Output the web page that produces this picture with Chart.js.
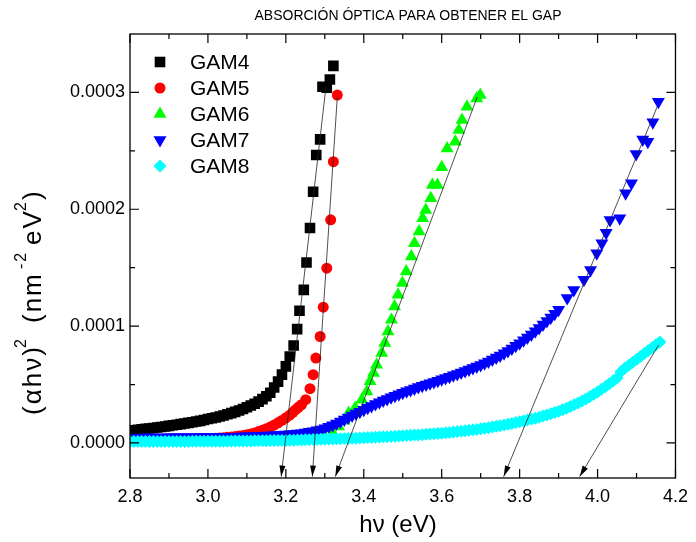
<!DOCTYPE html>
<html>
<head>
<meta charset="utf-8">
<script src="https://cdn.jsdelivr.net/npm/chart.js@4.4.1/dist/chart.umd.min.js"></script>
<style>
  body { margin: 0; background: #fff; }
  #wrap { width: 696px; height: 542px; position: relative; }
</style>
</head>
<body>
<div id="wrap"><canvas id="gapChart"></canvas></div>
<script>
// === data (y in units of 1e-4 nm^-2 eV^2) ===
const gam4X = [2.80,2.81,2.82,2.83,2.84,2.85,2.86,2.87,2.88,2.89,2.90,2.91,2.92,2.93,2.94,2.95,2.96,2.97,2.98,2.99,
  3.00,3.01,3.02,3.03,3.04,3.05,3.06,3.07,3.08,3.09,3.10,3.11,3.12,3.13,3.14,3.15,3.16,3.17,3.18,3.19,3.20,3.21,
  3.220,3.229,3.235,3.246,3.253,3.262,3.270,3.278,3.288,3.294,3.305,3.313,3.322];
const gam4Y = [.105,.108,.112,.116,.120,.124,.128,.132,.137,.141,.146,.151,.156,.161,.166,.172,.177,.183,.189,.197,
  .205,.211,.218,.226,.235,.245,.255,.266,.278,.291,.305,.320,.336,.354,.375,.400,.430,.475,.525,.585,.655,.740,
  .834,.974,1.131,1.310,1.544,1.840,2.150,2.464,2.598,3.048,3.040,3.111,3.227];

const gam5X = [2.80,2.81,2.82,2.83,2.84,2.85,2.86,2.87,2.88,2.89,2.90,2.91,2.92,2.93,2.94,2.95,2.96,2.97,2.98,2.99,
  3.00,3.01,3.02,3.03,3.04,3.05,3.06,3.07,3.08,3.09,3.10,3.11,3.12,3.13,3.14,3.15,3.16,3.17,3.18,3.19,3.20,3.21,
  3.218,3.225,3.232,3.240,3.251,3.262,3.270,3.277,3.288,3.296,3.305,3.315,3.322,3.332];
const gam5Y = [.025,.025,.026,.026,.026,.027,.027,.027,.028,.028,.029,.029,.030,.030,.031,.032,.032,.033,.034,.035,
  .036,.038,.040,.042,.045,.048,.051,.055,.059,.064,.070,.077,.086,.097,.109,.122,.136,.153,.172,.193,.215,.238,
  .262,.285,.305,.327,.370,.464,.584,.726,.911,1.162,1.496,1.910,2.407,2.977];

const gam6X = [2.80,2.84,2.88,2.92,2.96,3.00,3.04,3.08,3.12,3.16,3.20,3.24,3.28,3.30,3.32,3.335,3.35,3.361,3.378,3.395,
  3.408,3.416,3.425,3.433,3.446,3.454,3.462,3.471,3.479,3.488,3.499,3.509,3.522,3.530,3.542,3.551,3.559,3.572,3.576,
  3.589,3.600,3.614,3.635,3.644,3.652,3.665,3.690,3.699];
const gam6Y = [.010,.010,.011,.011,.012,.012,.013,.014,.015,.016,.018,.022,.030,.045,.090,.140,.190,.256,.299,.370,
  .441,.527,.598,.669,.769,.855,.954,1.054,1.168,1.268,1.368,1.467,1.595,1.709,1.809,1.923,1.994,2.094,2.208,
  2.208,2.359,2.521,2.578,2.678,2.763,2.877,2.948,2.977];

const gam7X = [2.80,2.81,2.82,2.83,2.84,2.85,2.86,2.87,2.88,2.89,2.90,2.91,2.92,2.93,2.94,2.95,2.96,2.97,2.98,2.99,
  3.00,3.01,3.02,3.03,3.04,3.05,3.06,3.07,3.08,3.09,3.10,3.11,3.12,3.13,3.14,3.15,3.16,3.17,3.18,3.19,
  3.20,3.21,3.22,3.23,3.24,3.25,3.26,3.27,3.28,3.29,3.30,3.31,3.32,3.33,3.34,3.35,3.36,3.37,3.38,3.39,
  3.40,3.41,3.42,3.43,3.44,3.45,3.46,3.47,3.48,3.49,3.50,3.51,3.52,3.53,3.54,3.55,3.56,3.57,3.58,3.59,
  3.60,3.61,3.62,3.63,3.64,3.65,3.66,3.67,3.68,3.69,3.70,3.71,3.72,3.73,3.74,3.75,3.76,3.77,3.78,3.79,
  3.80,3.81,3.82,3.83,3.84,3.85,3.86,3.87,3.88,3.89,3.90,
  3.922,3.939,3.965,3.982,3.998,4.011,4.022,4.032,4.057,4.072,4.087,4.099,4.116,4.129,4.142,4.156];
const gam7Y = [.045,.045,.045,.046,.046,.046,.046,.047,.047,.047,.048,.048,.048,.048,.049,.049,.049,.049,.050,.050,
  .050,.051,.051,.052,.052,.053,.053,.054,.055,.056,.057,.058,.059,.060,.061,.063,.064,.066,.068,.070,
  .072,.074,.077,.080,.084,.089,.095,.101,.108,.116,.126,.138,.152,.167,.183,.200,.217,.234,.251,.268,
  .285,.301,.317,.333,.348,.363,.377,.391,.404,.417,.430,.442,.454,.466,.478,.489,.500,.511,.522,.533,
  .545,.556,.567,.579,.591,.603,.615,.628,.641,.654,.668,.683,.698,.714,.731,.749,.768,.788,.809,.831,
  .854,.878,.903,.929,.956,.984,1.013,1.043,1.074,1.106,1.139,
  1.240,1.310,1.396,1.481,1.624,1.709,1.800,1.909,1.923,2.137,2.222,2.473,2.598,2.578,2.744,2.920];

const gam8X = [2.80,2.81,2.82,2.83,2.84,2.85,2.86,2.87,2.88,2.89,2.90,2.91,2.92,2.93,2.94,2.95,2.96,2.97,2.98,2.99,
  3.00,3.01,3.02,3.03,3.04,3.05,3.06,3.07,3.08,3.09,3.10,3.11,3.12,3.13,3.14,3.15,3.16,3.17,3.18,3.19,
  3.20,3.21,3.22,3.23,3.24,3.25,3.26,3.27,3.28,3.29,3.30,3.31,3.32,3.33,3.34,3.35,3.36,3.37,3.38,3.39,
  3.40,3.41,3.42,3.43,3.44,3.45,3.46,3.47,3.48,3.49,3.50,3.51,3.52,3.53,3.54,3.55,3.56,3.57,3.58,3.59,
  3.60,3.61,3.62,3.63,3.64,3.65,3.66,3.67,3.68,3.69,3.70,3.71,3.72,3.73,3.74,3.75,3.76,3.77,3.78,3.79,
  3.80,3.81,3.82,3.83,3.84,3.85,3.86,3.87,3.88,3.89,3.90,3.91,3.92,3.93,3.94,3.95,3.96,3.97,3.98,3.99,
  4.00,4.01,4.02,4.03,4.04,4.05,4.06,4.07,4.08,4.09,4.10,4.11,4.12,4.13,4.14,4.15,4.16];
const gam8Y = [.012,.012,.012,.012,.012,.012,.012,.012,.013,.013,.013,.013,.013,.013,.013,.013,.014,.014,.014,.014,
  .014,.014,.015,.015,.015,.015,.016,.016,.016,.016,.017,.017,.018,.018,.019,.019,.020,.020,.021,.021,
  .022,.023,.024,.025,.026,.027,.028,.029,.030,.031,.032,.033,.034,.035,.036,.037,.038,.040,.041,.043,
  .044,.046,.047,.049,.050,.052,.053,.055,.057,.059,.061,.063,.065,.067,.069,.071,.074,.076,.079,.081,
  .084,.087,.090,.093,.097,.100,.104,.108,.112,.116,.121,.126,.131,.136,.142,.148,.154,.160,.167,.174,
  .181,.188,.196,.204,.212,.221,.230,.240,.250,.261,.272,.284,.297,.311,.326,.342,.359,.377,.396,.416,
  .437,.459,.482,.506,.530,.555,.610,.640,.665,.690,.715,.740,.765,.790,.815,.840,.865];

// tangent lines: [x start, y start, x end (arrow tip), y end]
const tangents = [
  [3.303, 3.05, 3.188, -0.288],
  [3.332, 2.96, 3.268, -0.288],
  [3.691, 2.96, 3.327, -0.288],
  [4.153, 2.877, 3.759, -0.288],
  [4.157, 0.84, 3.954, -0.288]
];

const seriesNames = ['GAM4', 'GAM5', 'GAM6', 'GAM7', 'GAM8'];
const xTickVals = [2.8, 3.0, 3.2, 3.4, 3.6, 3.8, 4.0, 4.2];
const xMinorVals = [2.9, 3.1, 3.3, 3.5, 3.7, 3.9, 4.1];
const yTickVals = [0, 1, 2, 3];
const yMinorVals = [0.5, 1.5, 2.5];

const styles = [
  { color: '#000000', style: 'rect', r: 7.5, rot: 0 },
  { color: '#ff0000', style: 'circle', r: 5.5, rot: 0 },
  { color: '#00ff00', style: 'triangle', r: 7.5, rot: 0 },
  { color: '#0000ff', style: 'triangle', r: 7.5, rot: 180 },
  { color: '#00ffff', style: 'rectRot', r: 6.5, rot: 0 }
];

const zip = (xs, ys) => xs.map((x, i) => ({ x: x, y: ys[i] }));
const allX = [gam4X, gam5X, gam6X, gam7X, gam8X];
const allY = [gam4Y, gam5Y, gam6Y, gam7Y, gam8Y];

// later series drawn on top (lower order = drawn last)
const datasets = seriesNames.map((name, i) => ({
  label: name,
  data: zip(allX[i], allY[i]),
  showLine: false,
  pointStyle: styles[i].style,
  pointRadius: styles[i].r,
  pointRotation: styles[i].rot,
  pointBackgroundColor: styles[i].color,
  pointBorderColor: styles[i].color,
  pointBorderWidth: 0,
  order: 10 - i
}));

tangents.forEach(t => {
  datasets.push({
    label: '',
    data: [{ x: t[0], y: t[1] }, { x: t[2], y: t[3] }],
    showLine: true,
    borderColor: '#222',
    borderWidth: 0.8,
    pointRadius: 0,
    order: 0
  });
});

const FONT = "'Liberation Sans', Arial, sans-serif";

const decorPlugin = {
  id: 'decor',
  afterDraw(chart) {
    const ctx = chart.ctx;
    const a = chart.chartArea;
    const xs = chart.scales.x, ys = chart.scales.y;
    ctx.save();
    ctx.strokeStyle = '#000';
    ctx.fillStyle = '#000';

    // frame
    ctx.lineWidth = 1.3;
    ctx.strokeRect(a.left, a.top, a.right - a.left, a.bottom - a.top);

    // inward ticks on all sides
    ctx.lineWidth = 1.2;
    ctx.beginPath();
    const tickX = (v, len) => {
      const p = xs.getPixelForValue(v);
      ctx.moveTo(p, a.bottom); ctx.lineTo(p, a.bottom - len);
      ctx.moveTo(p, a.top); ctx.lineTo(p, a.top + len);
    };
    const tickY = (v, len) => {
      const p = ys.getPixelForValue(v);
      ctx.moveTo(a.left, p); ctx.lineTo(a.left + len, p);
      ctx.moveTo(a.right, p); ctx.lineTo(a.right - len, p);
    };
    xTickVals.forEach(v => tickX(v, 9));
    xMinorVals.forEach(v => tickX(v, 5));
    yTickVals.forEach(v => tickY(v, 9));
    yMinorVals.forEach(v => tickY(v, 5));
    ctx.stroke();

    // arrow heads on tangent lines
    tangents.forEach(t => {
      const x0 = xs.getPixelForValue(t[0]), y0 = ys.getPixelForValue(t[1]);
      const x1 = xs.getPixelForValue(t[2]), y1 = ys.getPixelForValue(t[3]);
      const ang = Math.atan2(y1 - y0, x1 - x0);
      const len = 11, hw = 3;
      ctx.beginPath();
      ctx.moveTo(x1, y1);
      ctx.lineTo(x1 - len * Math.cos(ang) + hw * Math.sin(ang), y1 - len * Math.sin(ang) - hw * Math.cos(ang));
      ctx.lineTo(x1 - len * Math.cos(ang) - hw * Math.sin(ang), y1 - len * Math.sin(ang) + hw * Math.cos(ang));
      ctx.closePath();
      ctx.fill();
    });

    // legend
    seriesNames.forEach((name, i) => {
      const ly = 62 + i * 26;
      const s = styles[i];
      ctx.fillStyle = s.color;
      ctx.strokeStyle = s.color;
      Chart.helpers.drawPoint(ctx, { pointStyle: s.style, radius: s.r, rotation: s.rot, borderWidth: 0 }, 160, ly);
      ctx.fillStyle = '#000';
      ctx.font = '21px ' + FONT;
      ctx.textAlign = 'left';
      ctx.textBaseline = 'middle';
      ctx.fillText(name, 190, ly + 1);
    });

    // title
    ctx.fillStyle = '#000';
    ctx.font = '14px ' + FONT;
    ctx.textAlign = 'center';
    ctx.textBaseline = 'middle';
    ctx.fillText('ABSORCIÓN ÓPTICA PARA OBTENER EL GAP', 408, 16);

    // x axis title
    ctx.font = '24px ' + FONT;
    ctx.fillText('hν (eV)', 398, 525);

    // y axis title, pieces placed along the rotated baseline
    ctx.save();
    ctx.translate(34, 415);
    ctx.rotate(-Math.PI / 2);
    ctx.textAlign = 'left';
    ctx.textBaseline = 'middle';
    ctx.letterSpacing = '2px';
    const yPieces = [
      ['(αhν)', 0, 0], ['2', 67, 1],
      ['(nm', 92, 0], ['-2', 146, 1], ['eV', 170, 0], ['2', 204, 1], [')', 215, 0]
    ];
    yPieces.forEach(p => {
      ctx.font = (p[2] ? '16px ' : '26px ') + FONT;
      ctx.fillText(p[0], p[1], p[2] ? -12 : 0);
    });
    ctx.restore();

    ctx.restore();
  }
};

new Chart(document.getElementById('gapChart'), {
  type: 'scatter',
  data: { datasets: datasets },
  options: {
    responsive: true,
    maintainAspectRatio: false,
    animation: false,
    layout: { padding: { top: 34, right: 14, left: 0, bottom: 0 } },
    plugins: { legend: { display: false }, tooltip: { enabled: false } },
    scales: {
      x: {
        type: 'linear', min: 2.8, max: 4.2,
        afterFit: s => { s.height = 64; },
        afterBuildTicks: s => { s.ticks = xTickVals.map(v => ({ value: v })); },
        grid: { display: false, drawTicks: false },
        border: { display: false },
        ticks: { padding: 8, color: '#000', font: { size: 18, family: FONT }, callback: v => v.toFixed(1), maxRotation: 0 }
      },
      y: {
        type: 'linear', min: -0.3, max: 3.5,
        afterFit: s => { s.width = 130; },
        afterBuildTicks: s => { s.ticks = yTickVals.map(v => ({ value: v })); },
        grid: { display: false, drawTicks: false },
        border: { display: false },
        ticks: { padding: 5, color: '#000', font: { size: 18, family: FONT }, callback: v => (v * 1e-4).toFixed(4) }
      }
    }
  },
  plugins: [decorPlugin]
});
</script>
</body>
</html>
